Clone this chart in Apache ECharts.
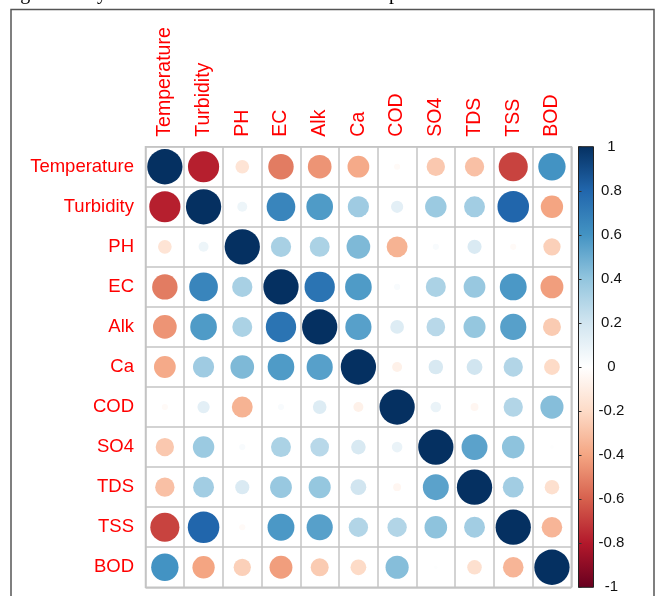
<!DOCTYPE html>
<html>
<head>
<meta charset="utf-8">
<script src="https://cdn.jsdelivr.net/npm/echarts@6/dist/echarts.min.js"></script>
<style>
  html, body { margin: 0; padding: 0; background: #fff; }
  #chart { width: 660px; height: 596px; }
</style>
</head>
<body>
<div id="chart"></div>
<script>
// Water-quality parameters (same order on both axes)
const params = ['Temperature', 'Turbidity', 'PH', 'EC', 'Alk', 'Ca', 'COD', 'SO4', 'TDS', 'TSS', 'BOD'];

// Pearson correlation coefficients, one row per parameter
const rTemperature = [1.00, -0.78, -0.15, -0.52, -0.45, -0.38, -0.03, -0.27, -0.30, -0.68, 0.60];
const rTurbidity   = [-0.78, 1.00, 0.08, 0.66, 0.57, 0.36, 0.12, 0.37, 0.35, 0.80, -0.40];
const rPH          = [-0.15, 0.08, 1.00, 0.33, 0.32, 0.45, -0.35, 0.03, 0.16, -0.03, -0.24];
const rEC          = [-0.52, 0.66, 0.33, 1.00, 0.74, 0.57, 0.03, 0.32, 0.38, 0.58, -0.42];
const rAlk         = [-0.45, 0.57, 0.32, 0.74, 1.00, 0.55, 0.15, 0.28, 0.39, 0.55, -0.26];
const rCa          = [-0.38, 0.36, 0.45, 0.57, 0.55, 1.00, -0.08, 0.17, 0.20, 0.30, -0.20];
const rCOD         = [-0.03, 0.12, -0.35, 0.03, 0.15, -0.08, 1.00, 0.09, -0.05, 0.30, 0.43];
const rSO4         = [-0.27, 0.37, 0.03, 0.32, 0.28, 0.17, 0.09, 1.00, 0.54, 0.41, 0.01];
const rTDS         = [-0.30, 0.35, 0.16, 0.38, 0.39, 0.20, -0.05, 0.54, 1.00, 0.35, -0.17];
const rTSS         = [-0.68, 0.80, -0.03, 0.58, 0.55, 0.30, 0.30, 0.41, 0.35, 1.00, -0.34];
const rBOD         = [0.60, -0.40, -0.24, -0.42, -0.26, -0.20, 0.43, 0.01, -0.17, -0.34, 1.00];
const corrRows = [rTemperature, rTurbidity, rPH, rEC, rAlk, rCa, rCOD, rSO4, rTDS, rTSS, rBOD];

// Colour-bar tick values
const barTicks = [-1, -0.8, -0.6, -0.4, -0.2, 0, 0.2, 0.4, 0.6, 0.8, 1];

// Diverging red-white-blue palette, from -1 to +1
const rdbu = ['#67001F', '#B2182B', '#D6604D', '#F4A582', '#FDDBC7', '#FFFFFF',
              '#D1E5F0', '#92C5DE', '#4393C3', '#2166AC', '#053061'];

// Circle area is proportional to |r|
const MAX_D = 35.3;

const cells = [];
corrRows.forEach((row, i) => {
  row.forEach((v, j) => cells.push([j, i, v]));
});

const chart = echarts.init(document.getElementById('chart'), null, { renderer: 'canvas' });

const gridLeft = 145.5, gridTop = 146.7, gridW = 425.8, gridH = 440.6;
const barLeft = 578.5, barW = 15;

chart.setOption({
  animation: false,
  backgroundColor: '#fff',
  textStyle: { fontFamily: 'Liberation Sans, Arial, sans-serif' },
  graphic: [
    {
      type: 'text', left: 7, top: -16, silent: true,
      style: {
        text: 'significantly associated at 0.05 level with other parameters',
        fill: '#000', font: '20px "Liberation Serif", "Times New Roman", serif'
      }
    },
    {
      type: 'rect', silent: true, z: 100,
      shape: { x: 11, y: 9.5, width: 643, height: 600 },
      style: { fill: 'none', stroke: '#555', lineWidth: 1.5 }
    }
  ],
  visualMap: {
    show: false,
    type: 'continuous',
    min: -1, max: 1,
    dimension: 2,
    seriesIndex: 0,
    inRange: { color: rdbu }
  },
  grid: [
    {
      left: gridLeft, top: gridTop, width: gridW, height: gridH,
      show: true, borderColor: '#C4C4C4', borderWidth: 1.5, backgroundColor: '#fff'
    },
    {
      left: barLeft, top: gridTop, width: barW, height: gridH,
      show: true, borderColor: '#222', borderWidth: 1,
      backgroundColor: {
        type: 'linear', x: 0, y: 1, x2: 0, y2: 0,
        colorStops: rdbu.map((c, k) => ({ offset: k / (rdbu.length - 1), color: c }))
      }
    }
  ],
  xAxis: [
    {
      type: 'category', gridIndex: 0, data: params, position: 'top',
      axisLine: { show: false }, axisTick: { show: false },
      splitLine: { show: true, interval: 0, lineStyle: { color: '#C4C4C4', width: 1.5 } },
      axisLabel: {
        interval: 0, rotate: -90, margin: 10,
        color: '#FF0000', fontSize: 19.5, fontFamily: 'Liberation Sans, Arial, sans-serif'
      }
    },
    { type: 'value', gridIndex: 1, show: false, min: 0, max: 1 }
  ],
  yAxis: [
    {
      type: 'category', gridIndex: 0, data: params, inverse: true,
      axisLine: { show: false }, axisTick: { show: false },
      splitLine: { show: true, interval: 0, lineStyle: { color: '#C4C4C4', width: 1.5 } },
      axisLabel: {
        interval: 0, margin: 11.5,
        color: '#FF0000', fontSize: 18.5, fontFamily: 'Liberation Sans, Arial, sans-serif'
      }
    },
    {
      type: 'value', gridIndex: 1, position: 'right',
      min: barTicks[0], max: barTicks[barTicks.length - 1], interval: 0.2,
      axisLine: { show: false },
      axisTick: { show: true, inside: false, length: 3, lineStyle: { color: '#333', width: 1 } },
      splitLine: { show: false },
      axisLabel: {
        margin: 18, align: 'center', padding: [5, 0, 0, 0],
        color: '#111', fontSize: 15, fontFamily: 'Liberation Sans, Arial, sans-serif'
      }
    }
  ],
  series: [
    {
      type: 'scatter',
      xAxisIndex: 0, yAxisIndex: 0,
      data: cells,
      symbol: 'circle',
      symbolSize: (val) => MAX_D * Math.sqrt(Math.abs(val[2])),
      itemStyle: { opacity: 1 },
      emphasis: { disabled: true }
    }
  ]
});
</script>
</body>
</html>
